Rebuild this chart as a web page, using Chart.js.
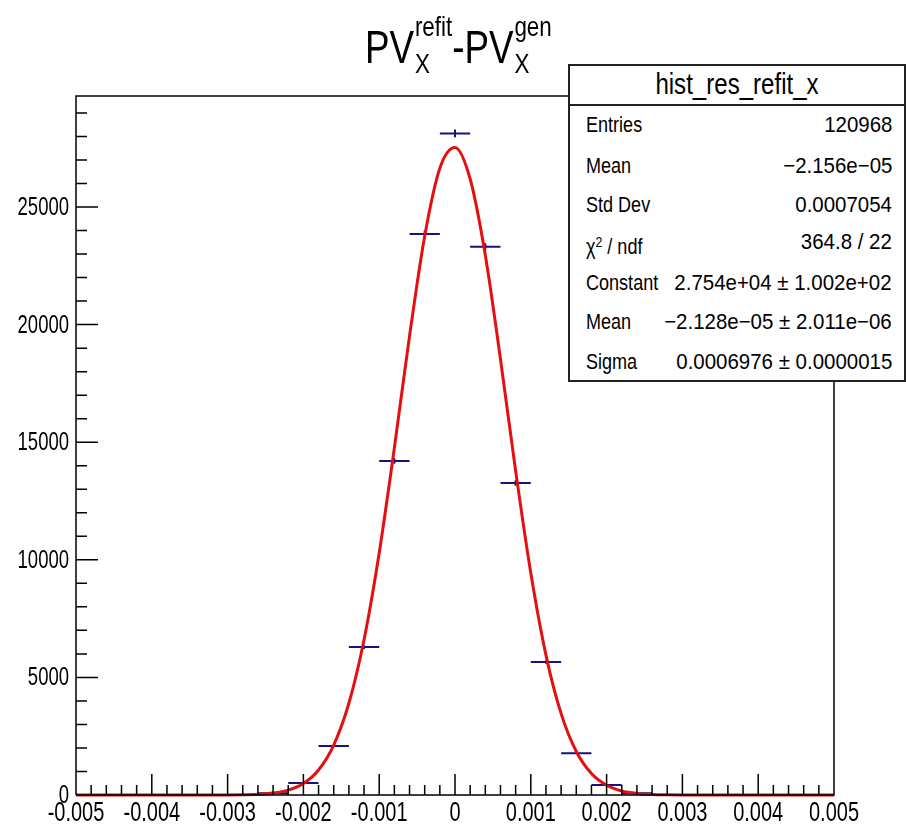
<!DOCTYPE html>
<html>
<head>
<meta charset="utf-8">
<script src="https://cdn.jsdelivr.net/npm/chart.js@4"></script>
<style>
  html, body { margin: 0; padding: 0; background: #fff; }
  #wrap { position: relative; width: 906px; height: 829px; font-family: "Liberation Sans", Arial, sans-serif; color: #000; }
  canvas { position: absolute; left: 0; top: 0; }
  #title { position: absolute; top: 24px; left: 365px; font-size: 46px; line-height: 46px; white-space: nowrap;
    display: flex; align-items: flex-start; transform: scaleX(0.8); transform-origin: left top; }
  #title .stack { display: flex; flex-direction: column; font-size: 28px; line-height: 27px; margin-top: -11px; margin-left: 1px; }
  #title .stack span:last-child { margin-top: 10px; }
  #stats { position: absolute; left: 568px; top: 64px; width: 338px; height: 318px; border: 2px solid #222; background: #fff; box-sizing: border-box; }
  #stats .head { position: absolute; left: 0; right: 0; top: 0; height: 38px; border-bottom: 2px solid #222; }
  #stats .txt { position: absolute; white-space: nowrap; line-height: 30px; }
</style>
</head>
<body>
<div id="wrap">
  <canvas id="c" width="906" height="829"></canvas>
  <div id="title"><span>PV</span><span class="stack"><span>refit</span><span>X</span></span><span>-PV</span><span class="stack"><span>gen</span><span>X</span></span></div>
  <div id="stats"><div class="head"></div></div>
</div>
<script>
// histogram bins (centres, width 0.0004) and contents
const binCenters = [-0.0048, -0.0044, -0.004, -0.0036, -0.0032, -0.0028, -0.0024, -0.002, -0.0016, -0.0012, -0.0008, -0.0004, 0,
  0.0004, 0.0008, 0.0012, 0.0016, 0.002, 0.0024, 0.0028, 0.0032, 0.0036, 0.004, 0.0044, 0.0048];
const binCounts = [0, 0, 0, 0, 0, 0, 70, 510, 2080, 6290, 14200, 23850, 28130,
  23310, 13265, 5655, 1773, 425, 70, 0, 0, 0, 0, 0, 0];
const binWidth = 0.0004;

// gaussian fit curve
const fitX = [-0.005, -0.003, -0.0028, -0.0026, -0.0024, -0.0022, -0.002, -0.0018, -0.0016, -0.0014, -0.0012, -0.001,
  -0.0008, -0.0006, -0.0004, -0.0002, 0, 0.0002, 0.0004, 0.0006, 0.0008, 0.001, 0.0012, 0.0014, 0.0016, 0.0018,
  0.002, 0.0022, 0.0024, 0.0026, 0.0028, 0.003, 0.005];
const fitY = [0, 2, 9, 30, 83, 210, 490, 1065, 2125, 3900, 6600, 10290,
  14760, 19510, 23760, 26650, 27530, 26190, 22950, 18530, 13780, 9440, 5950, 3460, 1850, 912,
  414, 173, 67, 24, 7, 2, 0];

const xTicks = [-0.005, -0.004, -0.003, -0.002, -0.001, 0, 0.001, 0.002, 0.003, 0.004, 0.005];
const xTickLabels = ["-0.005", "-0.004", "-0.003", "-0.002", "-0.001", "0", "0.001", "0.002", "0.003", "0.004", "0.005"];
const yTicks = [0, 5000, 10000, 15000, 20000, 25000];
const yTickLabels = ["0", "5000", "10000", "15000", "20000", "25000"];

const statsTitle = "hist_res_refit_x";
const statLabels = ["Entries", "Mean", "Std Dev", "\u03c7<sup style='font-size:15px;vertical-align:7px'>2</sup> / ndf", "Constant", "Mean", "Sigma"];
const statValues = ["120968", "\u22122.156e\u221205", "0.0007054", "364.8 / 22", "2.754e+04 \u00b1 1.002e+02",
  "\u22122.128e\u221205 \u00b1 2.011e\u221206", "0.0006976 \u00b1 0.0000015"];

const FONT = '"Liberation Sans", Arial, sans-serif';
const SQUEEZE = 0.74;

// stats box text, squeezed to look like the narrow ROOT font
(function buildStats() {
  const box = document.getElementById("stats");
  const add = (html, css) => {
    const d = document.createElement("div");
    d.className = "txt";
    d.innerHTML = html;
    Object.assign(d.style, css);
    box.appendChild(d);
  };
  add(statsTitle, { left: "0", width: "334px", textAlign: "center", top: "3px", fontSize: "29px",
    transform: "scaleX(0.83)", transformOrigin: "center" });
  const rowY = [125, 166, 205, 242, 283, 322, 362];
  statLabels.forEach((l, i) => {
    const top = (rowY[i] - 64 - 2 - 15) + "px";
    add(l, { left: "16px", top, fontSize: "22px", transform: "scaleX(0.82)", transformOrigin: "left center" });
    add(statValues[i], { right: "12px", top, fontSize: "22px", transform: "scaleX(0.93)", transformOrigin: "right center" });
  });
})();

// histogram markers: horizontal bin-width bar + vertical sqrt(N) error
const histMarkers = {
  id: "histMarkers",
  beforeDatasetsDraw(chart) {
    const { ctx, scales: { x, y } } = chart;
    ctx.save();
    ctx.strokeStyle = "#14147e";
    ctx.lineWidth = 2;
    binCenters.forEach((c, i) => {
      const n = binCounts[i];
      if (n <= 0) return;
      const py = y.getPixelForValue(n);
      ctx.beginPath();
      ctx.moveTo(x.getPixelForValue(c - binWidth / 2), py);
      ctx.lineTo(x.getPixelForValue(c + binWidth / 2), py);
      const err = Math.sqrt(n);
      const px = x.getPixelForValue(c);
      ctx.moveTo(px, y.getPixelForValue(n + err));
      ctx.lineTo(px, y.getPixelForValue(n - err));
      ctx.stroke();
    });
    ctx.restore();
  }
};

// ROOT-style frame with inward ticks and narrow tick labels
const frameTicks = {
  id: "frameTicks",
  afterDraw(chart) {
    const { ctx, chartArea: a, scales: { x, y } } = chart;
    ctx.save();
    ctx.strokeStyle = "#000";
    ctx.lineWidth = 1.5;
    ctx.beginPath();
    ctx.moveTo(a.left, a.bottom); ctx.lineTo(a.left, a.top); ctx.lineTo(a.right, a.top);
    ctx.lineTo(a.right, a.bottom); ctx.lineTo(a.left, a.bottom);
    for (let k = -25; k <= 25; k++) {
      const px = x.getPixelForValue(k * 0.0002);
      const len = k % 5 === 0 ? 21 : 10;
      ctx.moveTo(px, a.bottom); ctx.lineTo(px, a.bottom - len);
    }
    for (let v = 0; v <= y.max; v += 1000) {
      const py = y.getPixelForValue(v);
      const len = v % 5000 === 0 ? 22 : 11;
      ctx.moveTo(a.left, py); ctx.lineTo(a.left + len, py);
    }
    ctx.stroke();

    ctx.fillStyle = "#000";
    ctx.textBaseline = "middle";
    ctx.font = "27px " + FONT;
    ctx.textAlign = "center";
    xTicks.forEach((v, i) => {
      ctx.save();
      ctx.translate(x.getPixelForValue(v), a.bottom + 19);
      ctx.scale(SQUEEZE, 1);
      ctx.fillText(xTickLabels[i], 0, 0);
      ctx.restore();
    });
    ctx.font = "25px " + FONT;
    ctx.textAlign = "right";
    yTicks.forEach((v, i) => {
      ctx.save();
      ctx.translate(a.left - 7, y.getPixelForValue(v) + 1);
      ctx.scale(SQUEEZE, 1);
      ctx.fillText(yTickLabels[i], 0, 0);
      ctx.restore();
    });
    ctx.restore();
  }
};

new Chart(document.getElementById("c"), {
  type: "scatter",
  data: {
    datasets: [
      {
        label: "fit",
        data: fitX.map((v, i) => ({ x: v, y: fitY[i] })),
        showLine: true,
        borderColor: "#e41010",
        borderWidth: 3,
        pointRadius: 0,
        cubicInterpolationMode: "monotone",
        clip: 4
      }
    ]
  },
  options: {
    responsive: false,
    animation: false,
    layout: { padding: { top: 96, right: 72, left: 0, bottom: 0 } },
    plugins: { legend: { display: false }, tooltip: { enabled: false } },
    scales: {
      x: {
        type: "linear",
        min: -0.005,
        max: 0.005,
        afterFit: s => { s.height = 34; },
        grid: { display: false, drawTicks: false },
        border: { display: false },
        ticks: { display: false }
      },
      y: {
        type: "linear",
        min: 0,
        max: 29720,
        afterFit: s => { s.width = 76; },
        grid: { display: false, drawTicks: false },
        border: { display: false },
        ticks: { display: false }
      }
    }
  },
  plugins: [histMarkers, frameTicks]
});
</script>
</body>
</html>
